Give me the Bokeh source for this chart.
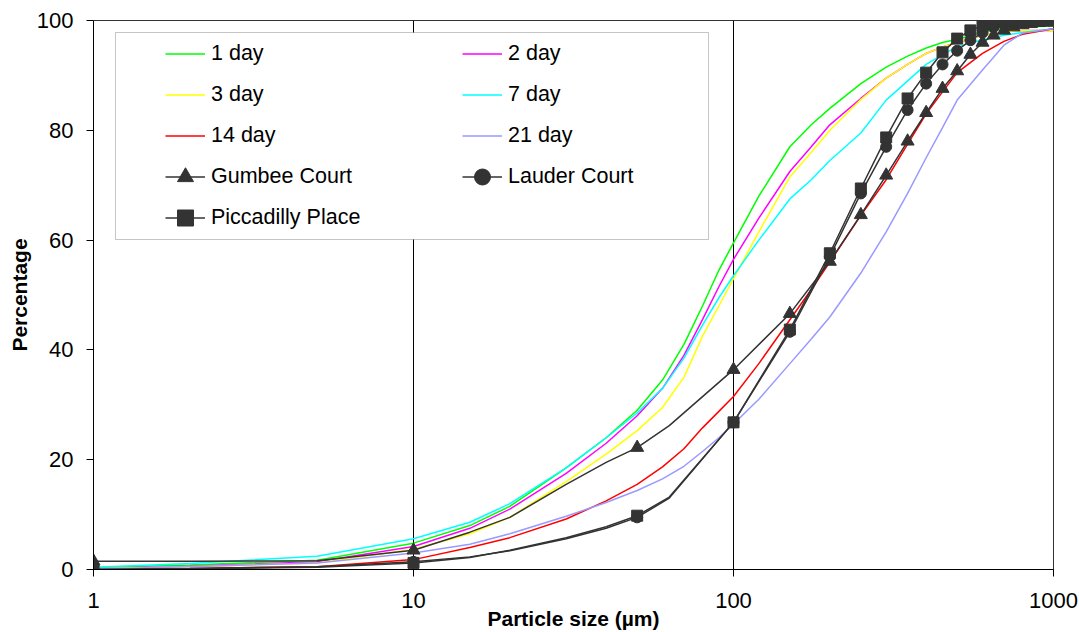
from bokeh.plotting import figure
from bokeh.models import Range1d, FixedTicker, Legend, LegendItem, BoxAnnotation
from bokeh.embed import file_html
from bokeh.resources import INLINE

# ---- laser diffraction curves (particle size in micrometres, cumulative %) ----
ld_sizes = [1, 2, 5, 10, 15, 20, 30, 40, 50, 60, 70, 80, 90, 100, 120, 150, 175,
            200, 250, 300, 350, 400, 450, 500, 600, 700, 800, 1000]
day_1 = [0.3, 0.8, 1.7, 4.8, 8.0, 11.5, 18.5, 24.0, 29.0, 34.5, 41.0, 48.0, 54.5,
         59.5, 68.0, 77.0, 81.0, 84.0, 88.5, 91.5, 93.5, 95.0, 96.0, 96.6, 97.8,
         98.5, 98.8, 99.0]
day_2 = [0.2, 0.6, 1.4, 4.2, 7.5, 11.0, 17.5, 23.0, 28.0, 33.0, 39.0, 45.5, 51.5,
         56.5, 64.0, 72.5, 77.0, 81.0, 85.8, 89.5, 92.0, 94.0, 95.2, 96.0, 97.3,
         97.9, 98.2, 98.2]
day_3 = [0.2, 0.5, 1.2, 3.7, 6.5, 9.5, 16.0, 21.0, 25.3, 29.5, 35.0, 42.5, 48.0,
         53.0, 61.5, 71.5, 76.0, 80.0, 85.6, 89.5, 92.0, 94.0, 95.2, 96.0, 97.3,
         97.9, 98.2, 98.2]
day_7 = [0.4, 1.1, 2.4, 5.6, 8.6, 12.0, 18.5, 24.0, 28.5, 33.0, 38.5, 44.5, 49.5,
         53.5, 60.0, 67.5, 71.0, 74.5, 79.5, 85.5, 89.0, 92.0, 93.8, 95.2, 96.5,
         97.3, 97.8, 98.5]
day_14 = [0.1, 0.2, 0.5, 1.8, 4.0, 5.8, 9.2, 12.5, 15.5, 18.7, 22.0, 25.8, 28.8,
          31.5, 37.5, 45.5, 51.0, 56.0, 64.5, 71.0, 77.5, 83.0, 87.0, 90.5, 94.0,
          96.2, 97.5, 98.5]
day_21 = [0.1, 0.5, 1.2, 3.0, 4.6, 6.5, 9.7, 12.2, 14.4, 16.5, 18.8, 21.5, 24.0,
          26.5, 31.0, 37.5, 42.0, 46.0, 54.0, 61.5, 68.5, 75.0, 80.5, 85.5, 91.0,
          95.5, 97.7, 98.5]

# ---- sieve curves of the three sites ----
site_sizes = [1, 2, 5, 10, 15, 20, 30, 40, 50, 63, 100, 150, 200, 250, 300, 350,
              400, 450, 500, 550, 600, 650, 700, 750, 800, 850, 900, 950, 1000]
sieve_sizes = [1, 10, 50, 100, 150, 200, 250, 300, 350, 400, 450, 500, 550, 600,
               650, 700, 750, 800, 850, 900, 950, 1000]
gumbee = [1.5, 1.5, 1.6, 3.5, 6.8, 9.5, 15.5, 19.5, 22.2, 26.2, 36.4, 46.6, 56.1,
          64.6, 71.8, 78.0, 83.2, 87.6, 90.8, 93.8, 96.0, 97.3, 98.2, 98.8, 99.2,
          99.4, 99.6, 99.8, 100.0]
lauder = [0.0, 0.2, 0.5, 1.4, 2.3, 3.4, 5.6, 7.5, 9.5, 13.0, 26.8, 43.3, 57.0,
          68.5, 77.0, 83.7, 88.5, 92.0, 94.5, 96.4, 97.8, 98.8, 99.3, 99.6, 99.8,
          99.9, 100.0, 100.0, 100.0]
piccadilly = [0.0, 0.1, 0.4, 1.2, 2.2, 3.5, 5.8, 7.8, 9.8, 13.2, 26.8, 43.7, 57.6,
              69.4, 78.7, 85.8, 90.5, 94.2, 96.7, 98.2, 99.1, 99.6, 99.9, 100.0,
              100.0, 100.0, 100.0, 100.0, 100.0]

x_ticks = [1, 10, 100, 1000]
x_tick_labels = ["1", "10", "100", "1000"]
y_ticks = [0, 20, 40, 60, 80, 100]

FONT = "Liberation Sans"

p = figure(width=1079, height=632, x_axis_type="log",
           x_range=Range1d(1, 1000), y_range=Range1d(0, 100),
           output_backend="svg", toolbar_location=None,
           min_border_left=93, min_border_right=26,
           min_border_top=20, min_border_bottom=63)
p.background_fill_color = "white"
p.border_fill_color = "white"
p.outline_line_color = "#333333"
p.outline_line_width = 1

p.xgrid.ticker = FixedTicker(ticks=x_ticks)
p.xgrid.grid_line_color = "black"
p.xgrid.grid_line_width = 1
p.ygrid.grid_line_color = None

p.xaxis.ticker = FixedTicker(ticks=x_ticks, minor_ticks=[])
p.xaxis.major_label_overrides = {t: s for t, s in zip(x_ticks, x_tick_labels)}
p.yaxis.ticker = FixedTicker(ticks=y_ticks, minor_ticks=[])

for ax in (p.xaxis[0], p.yaxis[0]):
    ax.axis_line_color = "black"
    ax.axis_line_width = 1
    ax.major_tick_line_color = "black"
    ax.major_tick_out = 7
    ax.major_tick_in = 0
    ax.minor_tick_line_color = None
    ax.major_label_text_font = FONT
    ax.major_label_text_font_size = "22px"
    ax.major_label_text_color = "black"
    ax.axis_label_text_font = FONT
    ax.axis_label_text_font_size = "21px"
    ax.axis_label_text_font_style = "bold"
    ax.axis_label_text_color = "black"

p.xaxis.axis_label = "Particle size (µm)"
p.yaxis.axis_label = "Percentage"
p.xaxis.major_label_standoff = 16
p.xaxis.axis_label_standoff = -4
p.yaxis.major_label_standoff = 13
p.yaxis.axis_label_standoff = 3

series = [("1 day", day_1, "#00FF00"), ("2 day", day_2, "#FF00FF"),
          ("3 day", day_3, "#FFFF00"), ("7 day", day_7, "#00FFFF"),
          ("14 day", day_14, "#FF0000"), ("21 day", day_21, "#9999FF")]

items = {}
for name, vals, col in series:
    r = p.line(ld_sizes, vals, line_color=col, line_width=1.5)
    items[name] = [r]

site_series = [("Gumbee Court", gumbee, "triangle", 13),
               ("Lauder Court", lauder, "circle", 11),
               ("Piccadilly Place", piccadilly, "square", 11)]
DARK = "#333333"
for name, vals, marker, size in site_series:
    r1 = p.line(site_sizes, vals, line_color=DARK, line_width=1.5)
    mx = [s for s in site_sizes if s in sieve_sizes]
    my = [v for s, v in zip(site_sizes, vals) if s in sieve_sizes]
    r2 = p.scatter(mx, my, marker=marker, size=size, fill_color=DARK, line_color=DARK)
    items[name] = [r1, r2]

box = BoxAnnotation(left=115, right=708, top=32, bottom=239,
                    left_units="canvas", right_units="canvas",
                    top_units="canvas", bottom_units="canvas",
                    fill_color="white", fill_alpha=1.0,
                    line_color="#404040", line_width=1, level="annotation")
p.add_layout(box)

order = ["1 day", "2 day", "3 day", "7 day", "14 day", "21 day",
         "Gumbee Court", "Lauder Court", "Piccadilly Place"]
legend = Legend(items=[LegendItem(label=n, renderers=items[n]) for n in order],
                location=(72, 331), orientation="horizontal", ncols=2,
                glyph_width=40, glyph_height=41, label_height=41, label_width=251,
                label_standoff=6, spacing=0, padding=0, margin=0,
                border_line_color=None, background_fill_alpha=0,
                label_text_font=FONT, label_text_font_size="21.5px",
                label_text_color="black")
p.add_layout(legend)

open("out.html", "w").write(file_html(p, INLINE))
